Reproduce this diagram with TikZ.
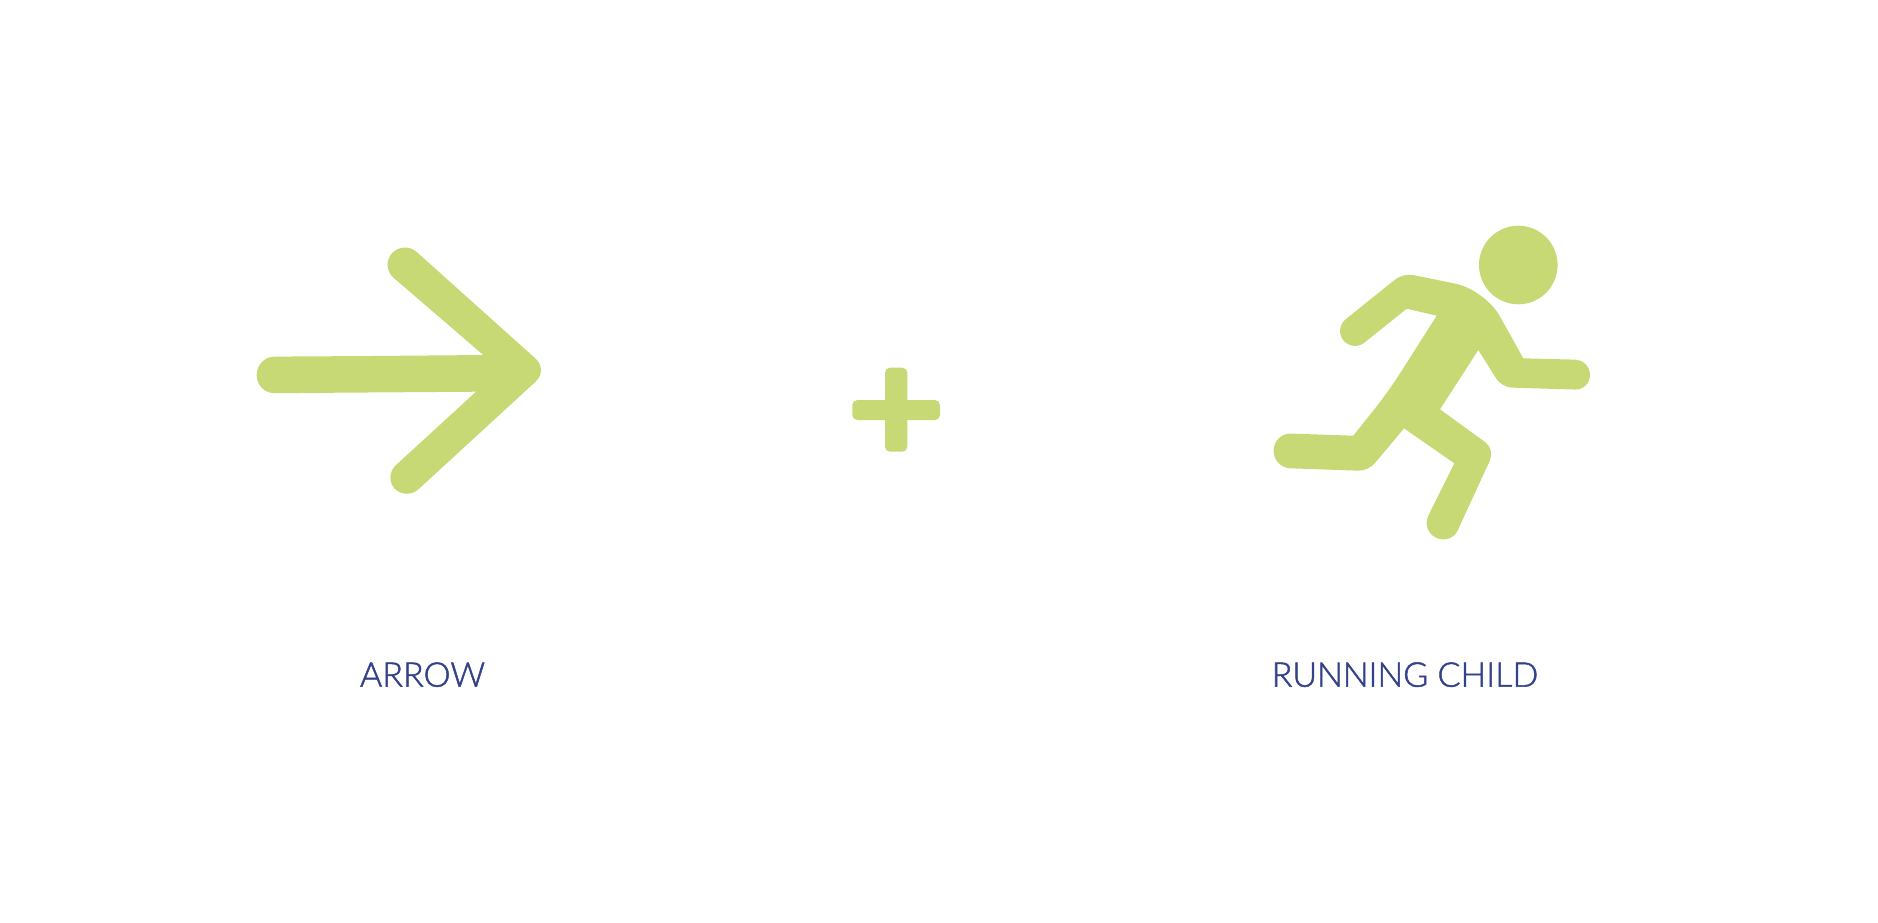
\documentclass[tikz,border=0pt]{standalone}
\usepackage{fontspec}
\usepackage{xcolor}
\setmainfont{Lato}[UprightFont={* Light},FakeBold=1.5,UprightFeatures={FakeBold=1.5}]
\definecolor{iconGreen}{HTML}{C7D975}
\definecolor{labelBlue}{HTML}{33418A}
\tikzset{
  icon/.style={fill=iconGreen,draw=none},
  caption/.style={text=labelBlue,font=\fontsize{9.7}{12}\selectfont,inner sep=0pt,anchor=base}
}

\begin{document}
\begin{tikzpicture}[x=0.1mm,y=-0.1mm]
\useasboundingbox (0,0) rectangle (1878,922);
% arrow
\fill[icon] (370,356) [sharp corners] -- (483.3,355)
  [rounded corners=1.75mm] -- (380.3,266.3) -- (403.7,240.3) [rounded corners=1.7mm] -- (548.3,370)
  [rounded corners=1.7mm] -- (406,500.7) -- (383.3,476.7) [sharp corners] -- (476,391.7)
  [rounded corners=1.8mm] -- (256.7,393.3) -- (256.7,356.7) [sharp corners] -- (370,356) -- cycle;
% plus
\fill[icon,rounded corners=0.5mm] (885,367.7) rectangle (907.3,451.7);
\fill[icon,rounded corners=0.5mm] (852.3,400) rectangle (940,420);
% running child
\fill[icon] (1518.3,265) circle (39.3);
\fill[icon] (1368.6,300.8) [rounded corners=1mm] -- (1403.3,273)
  [rounded corners=3mm] -- (1485,289.7) [sharp corners] -- (1523.3,358.3)
  [rounded corners=1.5mm] -- (1590,360) -- (1590,390) [rounded corners=1mm] -- (1501.7,387.3)
  [sharp corners] -- (1478.3,350) -- (1440,409.3)
  [rounded corners=1.2mm] -- (1495,449.3) [rounded corners=1.65mm] -- (1451,545) -- (1421,530.3)
  [sharp corners] -- (1454.3,463.3) -- (1404,428.3)
  [rounded corners=1mm] -- (1368.3,471) [rounded corners=1.7mm] -- (1273.3,467.7) -- (1274,433)
  [sharp corners] -- (1353.3,435.7) [rounded corners=2mm] -- (1388.3,391.7) [sharp corners] -- (1436.7,315.7)
  -- (1406.7,308.7) [rounded corners=1.5mm] -- (1352.7,352) -- (1334,328.7) [sharp corners] -- (1368.6,300.8) -- cycle;
% labels
\node[caption] (arrowLabel) at (422.5,686.7) {ARROW};
\node[caption] (childLabel) at (1405,686.7) {RUNNING CHILD};
\end{tikzpicture}
\end{document}
